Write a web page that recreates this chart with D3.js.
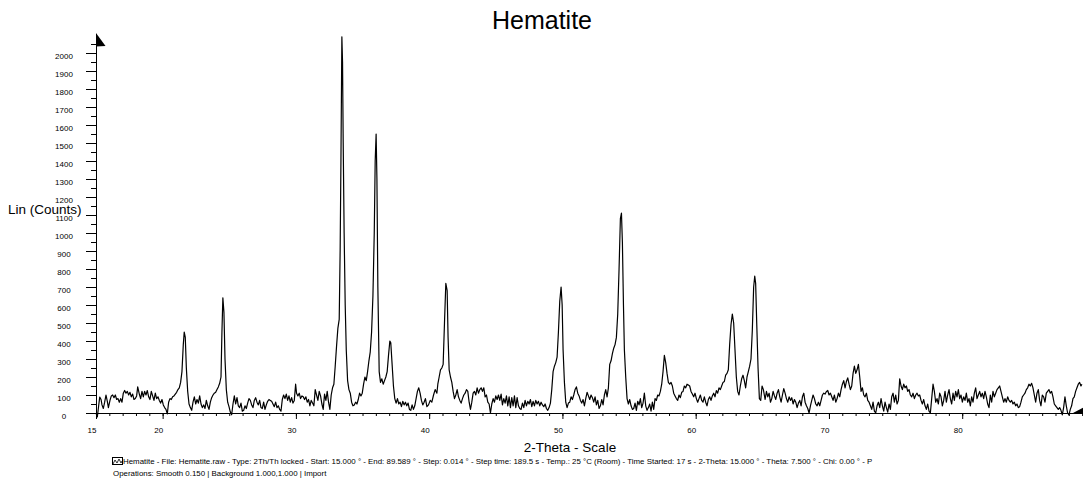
<!DOCTYPE html>
<html lang="en">
<head>
<meta charset="utf-8">
<title>Hematite</title>
<script src="https://cdnjs.cloudflare.com/ajax/libs/d3/7.8.5/d3.min.js"></script>
<style>
  body { margin: 0; background: #fff; }
  svg { display: block; font-family: "Liberation Sans", Arial, sans-serif; }
</style>
</head>
<body>
<div id="chart"></div>
<script>
// [2-theta, counts]
const scan = [
  [15.00,0],[15.10,-22],[15.20,40],[15.28,88],[15.38,75],[15.45,45],[15.55,25],[15.65,60],[15.75,100],[15.85,65],
  [15.93,30],[16.05,70],[16.15,95],[16.25,100],[16.35,85],[16.45,100],[16.55,75],[16.65,80],[16.75,60],[16.85,80],
  [16.95,60],[17.05,110],[17.15,125],[17.25,110],[17.35,120],[17.45,100],[17.55,115],[17.65,90],[17.75,105],[17.85,75],
  [17.95,80],[18.05,95],[18.13,145],[18.25,105],[18.35,80],[18.45,120],[18.55,90],[18.65,120],[18.75,100],[18.85,125],
  [18.95,90],[19.05,75],[19.15,120],[19.25,95],[19.35,70],[19.45,110],[19.55,80],[19.65,90],[19.75,70],[19.85,55],
  [19.95,75],[20.05,45],[20.15,30],[20.25,20],[20.35,-5],[20.45,60],[20.55,80],[20.65,75],[20.75,90],[20.85,95],
  [20.95,105],[21.05,115],[21.15,130],[21.25,140],[21.35,170],[21.45,230],[21.55,380],[21.62,450],[21.70,420],[21.78,250],
  [21.88,120],[21.98,50],[22.08,30],[22.18,15],[22.28,60],[22.38,90],[22.48,50],[22.58,75],[22.68,55],[22.78,95],
  [22.88,50],[22.98,30],[23.08,45],[23.18,25],[23.28,70],[23.38,40],[23.48,20],[23.58,60],[23.68,85],[23.78,100],
  [23.88,110],[23.98,115],[24.08,130],[24.18,145],[24.28,165],[24.38,200],[24.45,450],[24.52,640],[24.60,560],[24.68,300],
  [24.78,130],[24.88,60],[24.98,35],[25.08,5],[25.18,-10],[25.28,50],[25.38,95],[25.48,50],[25.58,85],[25.68,40],
  [25.78,30],[25.88,55],[25.98,10],[26.08,15],[26.18,40],[26.28,25],[26.38,55],[26.48,80],[26.58,70],[26.68,45],
  [26.78,30],[26.88,70],[26.98,85],[27.08,60],[27.18,45],[27.28,70],[27.38,30],[27.48,25],[27.58,60],[27.68,20],
  [27.78,45],[27.88,65],[27.98,75],[28.08,70],[28.18,65],[28.28,50],[28.38,35],[28.48,60],[28.58,30],[28.68,40],
  [28.78,20],[28.88,10],[28.98,75],[29.08,100],[29.18,80],[29.28,105],[29.38,70],[29.48,95],[29.58,60],[29.68,85],
  [29.78,55],[29.88,70],[29.98,160],[30.05,110],[30.15,95],[30.25,110],[30.35,80],[30.45,95],[30.55,90],[30.65,75],
  [30.75,90],[30.85,60],[30.95,75],[31.05,40],[31.15,70],[31.25,55],[31.35,40],[31.45,130],[31.55,100],[31.65,70],
  [31.75,120],[31.85,95],[31.95,50],[32.05,20],[32.15,105],[32.25,70],[32.35,120],[32.45,60],[32.55,20],[32.65,100],
  [32.75,140],[32.85,160],[32.95,260],[33.05,370],[33.15,470],[33.25,520],[33.32,900],[33.38,1400],[33.45,2090],[33.50,1950],
  [33.55,1500],[33.62,1000],[33.70,600],[33.78,350],[33.88,180],[33.98,130],[34.08,110],[34.18,60],[34.28,40],[34.38,45],
  [34.48,60],[34.58,50],[34.68,75],[34.78,110],[34.88,95],[34.98,110],[35.08,160],[35.18,200],[35.28,180],[35.38,230],
  [35.48,290],[35.58,340],[35.68,450],[35.78,650],[35.88,1000],[35.95,1400],[36.02,1550],[36.08,1300],[36.15,700],[36.25,230],
  [36.35,170],[36.45,190],[36.55,160],[36.65,180],[36.75,200],[36.85,230],[36.95,320],[37.05,400],[37.12,390],[37.22,270],
  [37.32,150],[37.42,80],[37.52,55],[37.62,80],[37.72,50],[37.82,60],[37.92,35],[38.02,65],[38.12,45],[38.22,60],
  [38.32,40],[38.42,55],[38.52,20],[38.62,15],[38.72,45],[38.82,20],[38.92,40],[39.02,80],[39.12,120],[39.22,140],
  [39.32,110],[39.42,70],[39.52,45],[39.62,60],[39.72,80],[39.83,35],[39.95,45],[40.08,70],[40.20,60],[40.33,100],
  [40.45,130],[40.58,110],[40.65,160],[40.75,200],[40.85,240],[40.95,250],[41.05,270],[41.15,500],[41.25,720],[41.35,680],
  [41.42,420],[41.50,240],[41.60,200],[41.70,170],[41.80,120],[41.90,80],[42.00,100],[42.10,130],[42.20,90],[42.30,70],
  [42.40,55],[42.50,80],[42.60,100],[42.70,110],[42.80,130],[42.90,120],[43.00,60],[43.10,20],[43.20,60],[43.30,110],
  [43.40,120],[43.50,100],[43.60,140],[43.70,110],[43.80,130],[43.90,140],[44.00,120],[44.10,140],[44.20,90],[44.30,100],
  [44.40,60],[44.50,50],[44.60,0],[44.70,50],[44.80,80],[44.90,60],[45.00,95],[45.10,75],[45.20,100],[45.30,70],
  [45.40,105],[45.50,45],[45.60,80],[45.70,55],[45.80,95],[45.90,40],[46.00,90],[46.10,30],[46.20,85],[46.30,40],
  [46.40,95],[46.50,30],[46.60,85],[46.70,40],[46.80,25],[46.90,20],[47.00,55],[47.10,30],[47.20,70],[47.30,40],
  [47.40,65],[47.50,50],[47.60,75],[47.70,35],[47.80,65],[47.90,40],[48.00,70],[48.10,50],[48.20,65],[48.30,40],
  [48.40,60],[48.50,45],[48.60,35],[48.70,50],[48.80,25],[48.90,15],[49.00,30],[49.10,55],[49.20,130],[49.30,230],
  [49.40,260],[49.50,280],[49.60,310],[49.70,450],[49.80,620],[49.90,700],[49.98,600],[50.05,350],[50.15,170],[50.25,60],
  [50.35,30],[50.45,55],[50.55,60],[50.65,90],[50.75,75],[50.85,100],[50.95,130],[51.05,145],[51.15,110],[51.25,95],
  [51.35,70],[51.45,55],[51.55,75],[51.65,40],[51.75,80],[51.85,115],[51.95,95],[52.05,75],[52.15,100],[52.25,85],
  [52.35,60],[52.45,90],[52.55,45],[52.65,70],[52.75,25],[52.85,40],[52.95,75],[53.05,45],[53.15,100],[53.25,130],
  [53.35,90],[53.45,140],[53.55,270],[53.65,290],[53.75,330],[53.85,360],[53.95,380],[54.05,420],[54.15,550],[54.25,800],
  [54.35,1080],[54.43,1110],[54.50,950],[54.58,600],[54.65,350],[54.75,200],[54.85,80],[54.95,50],[55.05,75],[55.15,40],
  [55.25,20],[55.35,25],[55.45,55],[55.55,15],[55.65,65],[55.75,45],[55.85,80],[55.95,30],[56.05,55],[56.15,110],
  [56.25,40],[56.35,15],[56.45,30],[56.55,50],[56.65,10],[56.75,60],[56.85,20],[56.95,80],[57.05,70],[57.15,100],
  [57.25,95],[57.35,120],[57.45,160],[57.55,230],[57.65,320],[57.75,280],[57.85,220],[57.95,170],[58.05,160],[58.15,170],
  [58.25,150],[58.35,110],[58.45,95],[58.55,80],[58.65,70],[58.75,100],[58.85,85],[58.95,115],[59.05,120],[59.15,150],
  [59.25,140],[59.35,160],[59.45,155],[59.55,150],[59.65,120],[59.75,105],[59.85,90],[59.95,110],[60.05,80],[60.15,60],
  [60.25,80],[60.35,100],[60.45,70],[60.55,60],[60.65,90],[60.75,60],[60.85,40],[60.95,75],[61.05,90],[61.15,70],
  [61.25,95],[61.35,110],[61.45,90],[61.55,125],[61.65,110],[61.75,140],[61.85,130],[61.95,150],[62.05,170],[62.15,175],
  [62.25,210],[62.35,220],[62.45,240],[62.55,380],[62.65,490],[62.75,550],[62.85,500],[62.95,350],[63.05,200],[63.15,120],
  [63.25,100],[63.35,150],[63.45,190],[63.55,210],[63.65,180],[63.75,140],[63.85,200],[63.95,230],[64.05,260],[64.15,300],
  [64.25,460],[64.35,700],[64.43,760],[64.50,720],[64.58,500],[64.68,250],[64.78,80],[64.88,70],[64.98,150],[65.08,130],
  [65.21,75],[65.31,120],[65.41,90],[65.51,110],[65.61,60],[65.71,80],[65.81,120],[65.91,95],[66.01,75],[66.11,110],
  [66.21,130],[66.31,90],[66.41,60],[66.51,100],[66.61,135],[66.71,110],[66.81,80],[66.91,60],[67.01,90],[67.11,70],
  [67.21,85],[67.31,50],[67.41,75],[67.51,60],[67.61,30],[67.71,55],[67.81,70],[67.91,40],[68.01,90],[68.11,110],
  [68.21,60],[68.31,40],[68.41,25],[68.51,0],[68.61,40],[68.71,70],[68.81,100],[68.91,80],[69.01,50],[69.11,40],
  [69.21,60],[69.31,40],[69.41,70],[69.51,100],[69.61,110],[69.71,105],[69.81,120],[69.91,125],[70.01,100],[70.11,110],
  [70.21,90],[70.31,70],[70.41,100],[70.51,60],[70.61,80],[70.71,110],[70.81,90],[70.91,130],[71.01,160],[71.11,180],
  [71.21,140],[71.31,175],[71.41,195],[71.51,160],[71.61,130],[71.71,150],[71.81,220],[71.91,260],[72.01,220],[72.11,240],
  [72.21,270],[72.31,200],[72.41,120],[72.51,140],[72.61,100],[72.71,90],[72.81,110],[72.91,70],[73.01,60],[73.11,40],
  [73.21,20],[73.31,60],[73.41,10],[73.51,0],[73.61,40],[73.71,60],[73.81,30],[73.91,80],[74.01,40],[74.11,10],
  [74.21,60],[74.31,30],[74.41,5],[74.51,50],[74.61,20],[74.71,90],[74.81,110],[74.91,60],[75.01,100],[75.11,50],
  [75.21,70],[75.31,190],[75.41,150],[75.51,130],[75.61,160],[75.71,140],[75.81,150],[75.91,120],[76.01,130],[76.11,100],
  [76.21,90],[76.31,110],[76.41,80],[76.51,100],[76.61,110],[76.71,95],[76.81,100],[76.91,70],[77.01,50],[77.11,75],
  [77.21,40],[77.31,20],[77.41,50],[77.51,10],[77.61,0],[77.71,80],[77.81,160],[77.91,120],[78.01,60],[78.11,80],
  [78.21,50],[78.31,110],[78.41,90],[78.51,40],[78.61,70],[78.71,120],[78.81,60],[78.91,100],[79.01,130],[79.11,80],
  [79.21,50],[79.31,110],[79.41,70],[79.51,120],[79.61,90],[79.71,130],[79.81,80],[79.91,100],[80.01,60],[80.11,90],
  [80.21,70],[80.31,110],[80.41,60],[80.51,80],[80.61,40],[80.71,90],[80.81,60],[80.91,110],[81.01,140],[81.11,80],
  [81.21,100],[81.31,120],[81.41,90],[81.51,110],[81.61,80],[81.71,120],[81.81,90],[81.91,50],[82.01,30],[82.11,100],
  [82.21,60],[82.31,120],[82.41,90],[82.51,110],[82.61,130],[82.71,140],[82.81,150],[82.91,120],[83.01,90],[83.11,60],
  [83.21,80],[83.31,60],[83.41,90],[83.51,70],[83.61,60],[83.71,70],[83.81,50],[83.91,60],[84.01,40],[84.11,50],
  [84.21,30],[84.31,35],[84.41,60],[84.51,90],[84.61,100],[84.71,110],[84.81,130],[84.91,140],[85.01,160],[85.11,150],
  [85.21,165],[85.31,140],[85.41,100],[85.51,60],[85.61,110],[85.71,130],[85.81,70],[85.91,40],[86.01,100],[86.11,90],
  [86.21,60],[86.31,110],[86.41,120],[86.51,130],[86.61,110],[86.71,120],[86.81,90],[86.91,50],[87.01,40],[87.11,30],
  [87.21,20],[87.31,30],[87.41,15],[87.51,-10],[87.61,30],[87.71,90],[87.81,40],[87.91,0],[88.01,-10],[88.11,20],
  [88.21,40],[88.31,80],[88.41,90],[88.51,120],[88.61,140],[88.71,160],[88.81,170],[88.91,150],[88.98,160]
];

const yLabelTicks = [0,100,200,300,400,500,600,700,800,900,1000,1100,1200,1300,1400,1500,1600,1700,1800,1900,2000];
const xLabelTicks = [15,20,30,40,50,60,70,80];

const title = 'Hematite';
const yTitle = 'Lin (Counts)';
const xTitle = '2-Theta - Scale';
const legendLine1 = 'Hematite - File: Hematite.raw - Type: 2Th/Th locked - Start: 15.000 ° - End: 89.589 ° - Step: 0.014 ° - Step time: 189.5 s - Temp.: 25 °C (Room) - Time Started: 17 s - 2-Theta: 15.000 ° - Theta: 7.500 ° - Chi: 0.00 ° - P';
const legendLine2 = 'Operations: Smooth 0.150 | Background 1.000,1.000 | Import';

const w = 1083;
const h = 486;

const svg = d3.select('#chart')
  .append('svg')
  .attr('width', w)
  .attr('height', h);

const xScale = d3.scaleLinear().domain([15, 89.589]).range([96, 1090]);
const yScale = d3.scaleLinear().domain([0, 2100]).range([413, 35]);

// title
svg.append('text')
  .attr('x', 542)
  .attr('y', 29)
  .attr('text-anchor', 'middle')
  .style('font-size', '25px')
  .text(title);

// y axis: minor ticks every 50, labelled every 100
svg.append('g')
  .attr('transform', 'translate(96,0)')
  .call(d3.axisLeft(yScale).tickValues(d3.range(50, 2100, 100)).tickSize(5).tickSizeOuter(0).tickFormat(''));

const yAxis = svg.append('g')
  .attr('transform', 'translate(96,0)')
  .call(d3.axisLeft(yScale).tickValues(yLabelTicks).tickSize(10).tickSizeOuter(0).tickFormat(d3.format('d')));
yAxis.select('.domain').attr('d', 'M0.5,' + (yScale(0) + 0.5) + 'V34');
yAxis.selectAll('text')
  .attr('x', -32)
  .attr('y', 3)
  .attr('text-anchor', 'middle')
  .style('font-size', '8px')
  .style('font-family', '"Liberation Sans", Arial, sans-serif');

// arrow at the top of the y axis
svg.append('path')
  .attr('d', 'M96,33 L105.5,46 L96,46.5 Z')
  .attr('fill', '#000');

// x axis: ticks every degree, labelled every 10
svg.append('g')
  .attr('transform', 'translate(0,413)')
  .call(d3.axisBottom(xScale).tickValues(d3.range(16, 90, 1)).tickSize(3).tickSizeOuter(0).tickFormat(''));

const xAxis = svg.append('g')
  .attr('transform', 'translate(0,413)')
  .call(d3.axisBottom(xScale).tickValues(xLabelTicks).tickSize(6).tickSizeOuter(0).tickFormat(d3.format('d')));
xAxis.selectAll('text')
  .attr('x', -4.5)
  .attr('y', 14)
  .style('font-size', '8px')
  .style('font-family', '"Liberation Sans", Arial, sans-serif');

// the scan
const line = d3.line()
  .x(d => xScale(d[0]))
  .y(d => yScale(d[1]));

svg.append('path')
  .datum(scan)
  .attr('d', line)
  .attr('fill', 'none')
  .attr('stroke', '#000')
  .attr('stroke-width', 1.2)
  .attr('stroke-linejoin', 'round');

// wedge at the right end of the x axis
svg.append('path')
  .attr('d', 'M1073,413 L1092,403 L1092,413 Z')
  .attr('fill', '#000');

// axis titles
svg.append('text')
  .attr('x', 8)
  .attr('y', 214)
  .style('font-size', '13.5px')
  .text(yTitle);

svg.append('text')
  .attr('x', 570)
  .attr('y', 452)
  .attr('text-anchor', 'middle')
  .style('font-size', '13.5px')
  .text(xTitle);

// legend
const icon = svg.append('g');
icon.append('rect')
  .attr('x', 112.5).attr('y', 457.5)
  .attr('width', 10).attr('height', 7)
  .attr('fill', 'none').attr('stroke', '#000');
icon.append('polyline')
  .attr('points', '113,464 115,460 117,463 119,459 121,463 122,461')
  .attr('fill', 'none').attr('stroke', '#000').attr('stroke-width', 0.8);

svg.append('text')
  .attr('x', 123)
  .attr('y', 464)
  .style('font-size', '7.9px')
  .text(legendLine1);

svg.append('text')
  .attr('x', 113)
  .attr('y', 476)
  .style('font-size', '7.9px')
  .text(legendLine2);
</script>
</body>
</html>
